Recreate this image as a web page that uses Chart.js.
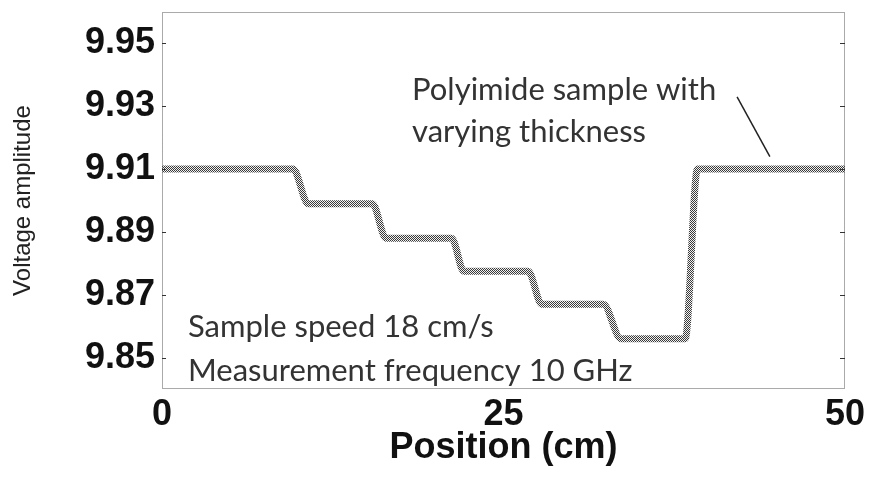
<!DOCTYPE html>
<html>
<head>
<meta charset="utf-8">
<script src="https://cdn.jsdelivr.net/npm/chart.js@4.4.0/dist/chart.umd.min.js"></script>
<style>
    html, body { margin: 0; padding: 0; background: #fff; }
</style>
</head>
<body>
<canvas id="chart" width="869" height="481"></canvas>
<script>
// position along the sample (cm) and the measured amplitude at each corner of the trace
const positions  = [0, 9.6, 10.7, 15.4, 16.4, 21.2, 22.1, 26.8, 27.8, 32.3, 33.6, 38.3, 39.2, 50];
const amplitudes = [9.910, 9.910, 9.899, 9.899, 9.888, 9.888, 9.8775, 9.8775, 9.867, 9.867, 9.856, 9.856, 9.910, 9.910];
const yTicks = [9.85, 9.87, 9.89, 9.91, 9.93, 9.95];
const xTicks = [0, 25, 50];

const noteLines = ['Polyimide sample with', 'varying thickness', 'Sample speed 18 cm/s', 'Measurement frequency 10 GHz'];
const noteX = [18.3, 18.3, 1.9, 1.9];
const noteY = [9.9321, 9.9187, 9.8564, 9.8427];
const leaderX = [42.1, 44.5];
const leaderY = [9.933, 9.914];

const canvas = document.getElementById('chart');
const ctx = canvas.getContext('2d');

// dithered grey look of the trace
function checkerPattern() {
    const p = document.createElement('canvas');
    p.width = 2; p.height = 2;
    const g = p.getContext('2d');
    g.fillStyle = '#f2f2f2';
    g.fillRect(0, 0, 2, 2);
    g.fillStyle = '#3a3a3a';
    g.fillRect(0, 0, 1, 1);
    g.fillRect(1, 1, 1, 1);
    return ctx.createPattern(p, 'repeat');
}

const framePlugin = {
    id: 'frame',
    afterDraw(chart) {
        const { ctx, chartArea: a, scales } = chart;
        ctx.save();
        ctx.strokeStyle = '#555';
        ctx.lineWidth = 1;
        ctx.setLineDash([1, 1]);
        ctx.strokeRect(a.left + 0.5, a.top + 0.5, a.right - a.left - 1, a.bottom - a.top - 1);
        ctx.setLineDash([]);
        ctx.strokeStyle = '#333';
        yTicks.forEach(v => {
            const y = Math.round(scales.y.getPixelForValue(v)) + 0.5;
            ctx.beginPath();
            ctx.moveTo(a.left, y); ctx.lineTo(a.left + 4, y);
            ctx.moveTo(a.right - 5, y); ctx.lineTo(a.right, y);
            ctx.stroke();
        });

        // annotations
        ctx.fillStyle = '#333';
        ctx.font = '31px Lato';
        ctx.textBaseline = 'alphabetic';
        ctx.textAlign = 'left';
        noteLines.forEach((t, i) => {
            ctx.fillText(t, scales.x.getPixelForValue(noteX[i]), scales.y.getPixelForValue(noteY[i]));
        });

        ctx.strokeStyle = '#222';
        ctx.lineWidth = 1.5;
        ctx.beginPath();
        ctx.moveTo(scales.x.getPixelForValue(leaderX[0]), scales.y.getPixelForValue(leaderY[0]));
        ctx.lineTo(scales.x.getPixelForValue(leaderX[1]), scales.y.getPixelForValue(leaderY[1]));
        ctx.stroke();
        ctx.restore();
    }
};

new Chart(ctx, {
    type: 'line',
    data: {
        datasets: [{
            data: positions.map((x, i) => ({ x: x, y: amplitudes[i] })),
            borderColor: checkerPattern(),
            borderWidth: 7,
            borderJoinStyle: 'round',
            borderCapStyle: 'butt',
            pointRadius: 0,
            cubicInterpolationMode: 'monotone',
            fill: false
        }]
    },
    options: {
        responsive: false,
        animation: false,
        devicePixelRatio: 1,
        layout: { padding: { top: 12, right: 24, left: 0, bottom: 0 } },
        plugins: { legend: { display: false }, tooltip: { enabled: false } },
        scales: {
            x: {
                type: 'linear',
                min: 0,
                max: 50,
                afterBuildTicks: s => { s.ticks = xTicks.map(v => ({ value: v })); },
                afterFit: s => { s.height = 92; s.paddingLeft = 0; s.paddingRight = 0; },
                grid: { display: false, drawTicks: false },
                border: { display: false },
                ticks: {
                    color: '#111',
                    font: { family: 'Liberation Sans', size: 36, weight: 'bold' },
                    padding: 4,
                    maxRotation: 0,
                    autoSkip: false
                },
                title: {
                    display: true,
                    text: 'Position (cm)',
                    color: '#111',
                    font: { family: 'Liberation Sans', size: 36, weight: 'bold' },
                    padding: { top: 0, bottom: 11 }
                }
            },
            y: {
                min: 9.84,
                max: 9.96,
                afterBuildTicks: s => { s.ticks = yTicks.map(v => ({ value: v })); },
                afterFit: s => { s.width = 162; s.paddingTop = 0; s.paddingBottom = 0; },
                grid: { display: false, drawTicks: false },
                border: { display: false },
                ticks: {
                    color: '#111',
                    font: { family: 'Liberation Sans', size: 36, weight: 'bold' },
                    padding: 7,
                    callback: v => v.toFixed(2)
                },
                title: {
                    display: true,
                    text: 'Voltage amplitude',
                    color: '#222',
                    font: { family: 'Liberation Sans', size: 24 },
                    padding: { top: 9, bottom: 0 }
                }
            }
        }
    },
    plugins: [framePlugin]
});
</script>
</body>
</html>
